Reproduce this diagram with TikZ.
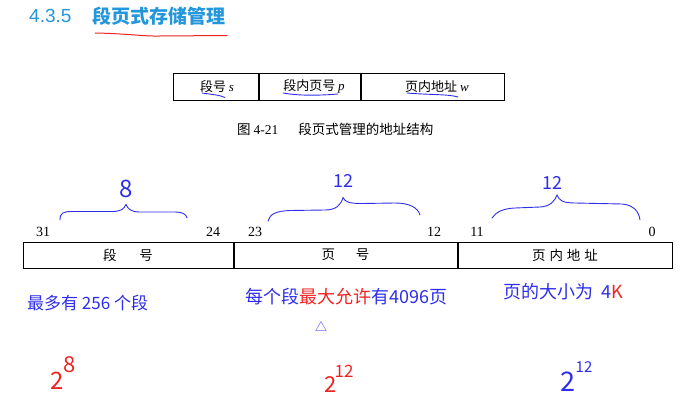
\documentclass[tikz,border=0pt]{standalone}
\usepackage{fontspec}
\setmainfont{Liberation Serif}
\newfontfamily\cjk{Noto Sans CJK SC}
\newfontfamily\sans{Liberation Sans}
\newcommand\varit[1]{{\normalfont\itshape #1}}
\definecolor{ttlblue}{RGB}{35,150,220}
\definecolor{hblue}{RGB}{45,45,235}
\definecolor{hred}{RGB}{240,35,35}
\begin{document}
\begin{tikzpicture}[x=1pt,y=-1pt,
  cell/.style={draw, line width=1pt, inner sep=0pt, minimum height=26pt,
    font=\cjk\fontsize{13.5}{15}\selectfont},
  bitnum/.style={inner sep=0pt, font=\fontsize{14}{16}\selectfont},
  hand/.style={inner sep=0pt, text=hblue, font=\cjk\fontsize{17}{20}\selectfont},
  handline/.style={hblue, line width=0.9pt, line cap=round},
  redline/.style={hred, line width=1pt, line cap=round},
  powbase/.style={inner sep=0pt, font=\cjk\fontsize{24}{26}\selectfont},
  powexp/.style={inner sep=0pt, font=\cjk\fontsize{17}{19}\selectfont}]
\useasboundingbox (0,0) rectangle (693,412);

% title
\node[anchor=west, inner sep=0pt, text=ttlblue, font=\sans\fontsize{19}{22}\selectfont] (num) at (29,16) {4.3.5};
\node[anchor=west, inner sep=0pt, text=ttlblue, font=\cjk\bfseries\fontsize{19}{22}\selectfont] (ttl) at (92,16.5) {段页式存储管理};
\draw[redline] (95,33) .. controls (125,33.5) and (145,36.5) .. (160,36) -- (227,35.5);

% top table
\node[cell, minimum width=85pt, minimum height=27pt, font=\cjk\fontsize{13}{15}\selectfont] (ts) at (215.5,86.5) {\hspace*{3pt}段号 \varit{s}};
\node[cell, minimum width=101pt, minimum height=27pt, anchor=west, font=\cjk\fontsize{13}{15}\selectfont] (tp) at (ts.east) {\hspace*{9pt}段内页号 \varit{p}};
\node[cell, minimum width=143pt, minimum height=27pt, anchor=west, font=\cjk\fontsize{13}{15}\selectfont] (tw) at (tp.east) {\hspace*{9pt}页内地址 \varit{w}};
\draw[handline] (202,93) .. controls (212,94.5) and (220,95) .. (225,97.5);
\draw[handline] (283,93) .. controls (300,96) and (320,95.5) .. (338,94);
\draw[handline] (407,93) .. controls (430,95) and (448,94) .. (458,97);

% caption
\node[anchor=west, inner sep=0pt, font=\fontsize{13.5}{16}\selectfont] (cap) at (237,129.5)
  {{\cjk 图}\hspace{3pt}4-21\hspace{20pt}{\cjk 段页式管理的地址结构}};

% bottom address structure
\node[cell, minimum width=210pt] (seg) at (128,255) {段\hspace{23pt}号};
\node[cell, minimum width=223pt, anchor=west] (pg) at (seg.east) {页\hspace{21pt}号};
\node[cell, minimum width=214pt, anchor=west] (off) at (pg.east) {页\hspace{4pt}内\hspace{4pt}地\hspace{4pt}址};

% bit numbers
\node[bitnum] (b31) at (43,232) {31};
\node[bitnum] (b24) at (213,232) {24};
\node[bitnum] (b23) at (255,232) {23};
\node[bitnum] (b12) at (434,232) {12};
\node[bitnum] (b11) at (477,232) {11};
\node[bitnum] (b0) at (652,232) {0};

% braces
\draw[handline] (60,220) .. controls (60,213) and (63,211.5) .. (72,211.5) -- (112,211.5)
  .. controls (121,211.5) and (124,209) .. (126,204.5)
  .. controls (128,209) and (131,212) .. (140,212) -- (174,212)
  .. controls (183,212) and (186,214) .. (187,218);
\draw[handline] (268,221) .. controls (270,214) and (276,211) .. (290,210.5) -- (325,210)
  .. controls (336,210) and (341,205) .. (343,197.5)
  .. controls (345,202) and (349,203.5) .. (362,203.5) -- (395,203)
  .. controls (410,203) and (418,208) .. (420,215);
\draw[handline] (492,218) .. controls (496,212) and (503,208.5) .. (515,208) -- (540,207)
  .. controls (550,206.5) and (555,201) .. (557,195)
  .. controls (559,200) and (562,203) .. (575,203) -- (622,204)
  .. controls (634,205) and (639,212) .. (640,220);
\node[hand, font=\cjk\fontsize{24}{26}\selectfont] (w8) at (126,189) {8};
\node[hand, font=\cjk\fontsize{18}{20}\selectfont] (w12a) at (343,181) {12};
\node[hand, font=\cjk\fontsize{18}{20}\selectfont] (w12b) at (552,183) {12};

% handwritten notes
\node[hand, anchor=west] (n1) at (27,303) {最多有 256 个段};
\node[hand, anchor=west, font=\cjk\fontsize{18}{20}\selectfont] (n2) at (245,297)
  {每个段\textcolor{hred}{最大允许}有4096页};
\node[hand, font=\cjk\fontsize{12}{14}\selectfont] (tri) at (321,327) {△};
\node[hand, anchor=west, font=\cjk\fontsize{18}{20}\selectfont] (n3) at (503,292)
  {页的大小为\hspace{8pt}4\textcolor{hred}{K}};

% powers
\node[powbase, text=hred] (p1) at (57.5,381) {2};
\node[powexp, text=hred, font=\cjk\fontsize{22}{24}\selectfont] (e1) at (70,365) {8};
\node[powbase, text=hred, font=\cjk\fontsize{22}{24}\selectfont] (p2) at (330.5,385) {2};
\node[powexp, text=hred] (e2) at (344,371) {12};
\node[powbase, text=hblue, font=\cjk\fontsize{27}{29}\selectfont] (p3) at (568,382) {2};
\node[powexp, text=hblue, font=\cjk\fontsize{15}{17}\selectfont] (e3) at (584,367) {12};
\end{tikzpicture}
\end{document}
